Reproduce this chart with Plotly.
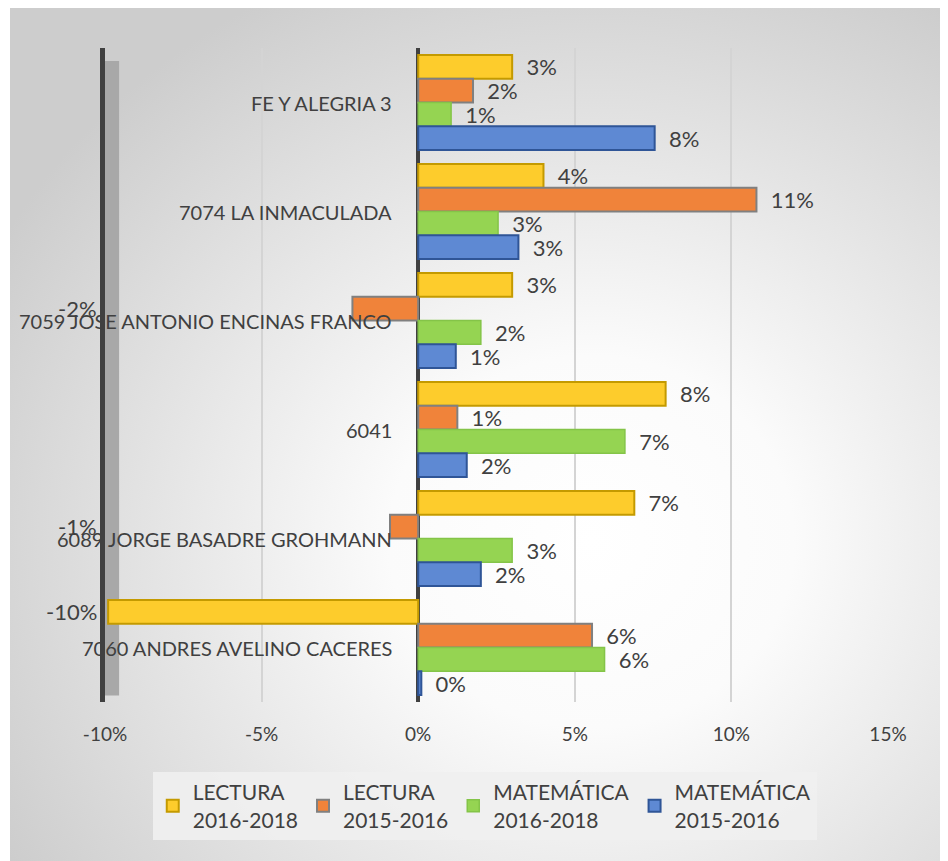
import base64
import plotly.graph_objects as go

# schools, listed top to bottom
escuelas = ['FE Y ALEGRIA 3', '7074 LA INMACULADA', '7059 JOSE ANTONIO ENCINAS FRANCO',
            '6041', '6089 JORGE BASADRE GROHMANN', '7060 ANDRES AVELINO CACERES']

# change in %
lectura_2016_2018 = [3.0, 4.0, 3.0, 7.9, 6.9, -9.9]
lectura_2015_2016 = [1.75, 10.8, -2.1, 1.25, -0.9, 5.55]
matematica_2016_2018 = [1.05, 2.55, 2.0, 6.6, 3.0, 5.95]
matematica_2015_2016 = [7.55, 3.2, 1.2, 1.55, 2.0, 0.1]

series_names = ['LECTURA<br>2016-2018', 'LECTURA<br>2015-2016',
                'MATEMÁTICA<br>2016-2018', 'MATEMÁTICA<br>2015-2016']
x_ticks = [-10, -5, 0, 5, 10, 15]

FONT = 'Lato'
TXT = '#404040'

def pct(v):
	return '%d%%' % round(v)

def background_svg():
	svg = ('<svg xmlns="http://www.w3.org/2000/svg" width="938" height="861" '
	       'viewBox="0 0 938 861" preserveAspectRatio="none">'
	       '<defs><radialGradient id="g" cx="0.62" cy="0.62" r="0.72">'
	       '<stop offset="0" stop-color="#ffffff"/>'
	       '<stop offset="0.3" stop-color="#fbfbfb"/>'
	       '<stop offset="1" stop-color="#cdcdcd"/>'
	       '</radialGradient></defs>'
	       '<rect width="938" height="861" fill="url(#g)"/></svg>')
	return 'data:image/svg+xml;base64,' + base64.b64encode(svg.encode()).decode()

styles = [
	dict(color='#FDCC2C', line=dict(color='#C49A00', width=2)),
	dict(color='#F0833A', line=dict(color='#808080', width=2)),
	dict(color='#95D452', line=dict(color='#84C448', width=1.5)),
	dict(color='#5E89D3', line=dict(color='#2F5597', width=2)),
]
values = [lectura_2016_2018, lectura_2015_2016, matematica_2016_2018, matematica_2015_2016]

# page body has an 8px margin, so the figure is laid out 8px up/left
L, R, T, B = 97, 68, 40, 167
plot_w = 948 - L - R
plot_h = 861 - T - B
xmin = x_ticks[0]
BARGAP = 0.13

fig = go.Figure()
for name, vals, st in zip(series_names, values, styles):
	fig.add_trace(go.Bar(
		y=escuelas, x=vals, orientation='h', name=name,
		marker=st,
		text=['\u00a0\u00a0' + pct(v) if v >= 0 else '' for v in vals], textposition='outside',
		constraintext='none', cliponaxis=False,
		textfont=dict(family=FONT, size=22, color=TXT),
	))

# negative values get their label left of the -10% wall, like the original
slot = plot_h / len(escuelas) * (1 - BARGAP) / len(values)
for k, vals in enumerate(values):
	for i, v in enumerate(vals):
		if v < 0:
			fig.add_annotation(x=xmin, y=i, xref='x', yref='y', text=pct(v), showarrow=False,
			                   xanchor='right', xshift=-6, yshift=(1.5 - k) * slot,
			                   font=dict(family=FONT, size=22, color=TXT))

# category names sit beside the zero line (y by index, '6041' would be read as a number)
for i, e in enumerate(escuelas):
	fig.add_annotation(x=0, y=i, xref='x', yref='y', text=e, showarrow=False,
	                   xanchor='right', xshift=-24, font=dict(family=FONT, size=20, color=TXT))

# grey side wall at the left end of the axis
fig.add_shape(type='rect', xref='x', yref='y domain', x0=xmin, x1=xmin + 0.45,
              y0=0.01, y1=0.98, fillcolor='#a8a8a8', line=dict(width=0), layer='below')

fig.add_layout_image(dict(source=background_svg(), xref='paper', yref='paper',
                          x=-(L - 2) / plot_w, y=1 + T / plot_h, sizex=938 / plot_w, sizey=861 / plot_h,
                          xanchor='left', yanchor='top', sizing='stretch', layer='below'))

fig.update_layout(
	width=948, height=861,
	margin=dict(l=L, r=R, t=T, b=B),
	paper_bgcolor='white', plot_bgcolor='rgba(0,0,0,0)',
	barmode='group', bargap=BARGAP, bargroupgap=0.0,
	font=dict(family=FONT, color=TXT),
	legend=dict(orientation='h', x=0.485, xanchor='center', y=-70 / plot_h, yanchor='top',
	            bgcolor='rgba(240,240,240,0.9)', font=dict(family=FONT, size=21, color=TXT),
	            traceorder='normal', itemwidth=30),
)
fig.update_xaxes(range=[xmin, x_ticks[-1]], tickvals=x_ticks,
                 ticktext=[pct(t) for t in x_ticks],
                 tickfont=dict(family=FONT, size=19, color=TXT), ticklabelstandoff=19,
                 showgrid=True, gridcolor='#d4d4d4', gridwidth=1.5,
                 zeroline=True, zerolinecolor='#404040', zerolinewidth=4,
                 showline=False, ticks='')
fig.update_yaxes(type='category', categoryorder='array', categoryarray=escuelas,
                 range=[len(escuelas) - 0.5, -0.5], showticklabels=False, showgrid=False,
                 showline=True, linecolor='#404040', linewidth=5, ticks='')

fig.write_html("out.html")
